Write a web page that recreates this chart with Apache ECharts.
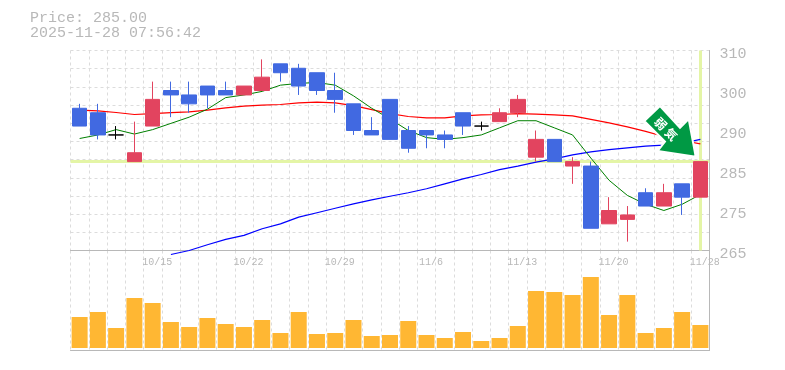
<!DOCTYPE html>
<html><head><meta charset="utf-8">
<style>html,body{margin:0;padding:0;background:#fff}#c{width:785px;height:370px}</style>
<script src="https://cdn.jsdelivr.net/npm/echarts@6/dist/echarts.min.js"></script>
</head><body><div id="c"></div>
<script>
const dates = ['10/8','10/9','10/10','10/14','10/15','10/16','10/17','10/20','10/21','10/22','10/23','10/24','10/27','10/28','10/29','10/30','10/31','11/4','11/5','11/6','11/7','11/10','11/11','11/12','11/13','11/14','11/17','11/18','11/19','11/20','11/21','11/25','11/26','11/27','11/28'];
const shownDates = ['10/15','10/22','10/29','11/6','11/13','11/20','11/28'];
const priceTicks = [265,275,285,290,300,310];
const open  = [297,296,291,285,293,301,300,302,301,300,301,307,306,305,301,298,292,299,292,292,291,296,293,294,296,286,290,284,284,271,272,278,275,280,277];
const close = [293,291,291,287,299,300,298,300,300,302,304,305,302,301,299,292,291,290,288,291,290,293,293,296,299,290,285,285,270,274,273,275,278,277,285];
const low   = [293,290,290,285,293,295,296,297,300,300,301,303,300,300,296,291,291,290,287,288,288,291,292,294,295,285,285,280,270,271,267,275,275,273,277];
const high  = [298,298,293,294,303,303,303,302,303,302,308,307,307,305,305,298,295,299,293,292,292,296,294,297,300,292,290,286,285,277,275,279,280,280,285];
const maShort = [290.2,291.0,292.2,291.2,292.2,293.6,295,296.8,299.4,300,300.8,302.2,302.6,302.8,302.2,299.8,297,294.6,292,290.4,290,290.4,291,292.6,294.2,294.2,292.6,291,285.8,280.8,277.4,275.4,274,275.4,277.6];
const maMid = [296.6,296.4,296.05,295.6,295.8,296,296.2,296.6,297.1,297.5,297.7,297.85,298.2,298.4,298.2,297.6,296.7,295.8,295.15,294.85,294.85,295.3,295.5,295.6,295.8,295.7,295.5,295.3,294.5,293.7,292.8,291.8,290.65,289.75,289];
const maLong = [null,null,null,null,null,264.1,265,266.3,267.5,268.4,269.9,271,272.5,273.5,274.5,275.5,276.4,277.2,278,278.9,280,281.1,282.1,283.2,284,284.9,285.6,286.5,287.2,287.7,288.1,288.5,288.7,289.1,290];
const volume = [31,36,20,50,45,26,21,30,24,21,28,15,36,14,15,28,12,13,27,13,10,16,7,10,22,57,56,53,71,33,53,15,20,36,23];
const lastPrice = 285;
const headerText = ['Price: 285.00','2025-11-28 07:56:42'];
const arrowText = '弱 気';

const GRAY = '#b8b8b8', GRID = '#dcdcdc', HL = '#e4f5a6';
const MONO = '"Liberation Mono", monospace';
const candles = dates.map((d,i)=>{
  const v=[open[i],close[i],low[i],high[i]];
  return open[i]===close[i] ? {value:v,itemStyle:{color:'#000',color0:'#000',borderColor:'#000',borderColor0:'#000'}} : v;
});
const chart = echarts.init(document.getElementById('c'),null,{renderer:'canvas'});
const split = {show:true,interval:0,lineStyle:{color:GRID,type:[3,3],width:1}};
chart.setOption({
  animation:false,
  backgroundColor:'#fff',
  title:{left:25,top:6,text:headerText.join('\n'),textStyle:{fontFamily:MONO,fontSize:15,fontWeight:'normal',color:GRAY,lineHeight:15}},
  grid:[{left:70.5,top:50.5,width:639,height:200},{left:70.5,top:250.5,width:639,height:100}],
  xAxis:[
    {type:'category',gridIndex:0,data:dates,position:'bottom',
     axisLine:{show:true,lineStyle:{color:GRAY,width:1}},axisTick:{show:false},splitLine:split,
     axisLabel:{show:true,interval:(i,v)=>shownDates.includes(v),hideOverlap:false,showMaxLabel:true,fontFamily:MONO,fontSize:10,color:GRAY,margin:7,align:'center',padding:[0,0,0,9]}},
    {type:'category',gridIndex:1,data:dates,position:'bottom',
     axisLine:{show:true,onZero:false,lineStyle:{color:GRAY,width:1}},axisTick:{show:false},splitLine:split,axisLabel:{show:false}}
  ],
  yAxis:[
    {type:'value',gridIndex:0,position:'right',min:265,max:310,scale:true,
     axisLine:{show:true,lineStyle:{color:GRAY,width:1}},axisTick:{show:false},axisLabel:{show:false},splitLine:{show:false}},
    {type:'value',gridIndex:0,position:'right',min:0,max:11,interval:1,
     axisLine:{show:false},axisTick:{show:false},axisLabel:{show:false},
     splitLine:{show:true,lineStyle:{color:GRID,type:[3,3],width:1}}},
    {type:'value',gridIndex:0,position:'right',min:0,max:5,interval:1,
     axisLine:{show:false},axisTick:{show:false},splitLine:{show:false},
     axisLabel:{show:true,margin:10,fontFamily:MONO,fontSize:15,color:GRAY,verticalAlign:'top',lineHeight:8,formatter:v=>String(priceTicks[v])}},
    {type:'value',gridIndex:1,position:'right',min:-2.5,max:97.5,
     axisLine:{show:true,onZero:false,lineStyle:{color:GRAY,width:1}},axisTick:{show:false},axisLabel:{show:false},splitLine:{show:false}}
  ],
  series:[
    {type:'line',name:'long',xAxisIndex:0,yAxisIndex:0,data:maLong,symbol:'none',clip:false,z:2,connectNulls:false,
     lineStyle:{color:'#0000ff',width:1.2},
     markLine:{silent:true,z:1,symbol:'none',animation:false,label:{show:false},
       lineStyle:{color:HL,width:3,type:'solid'},
       data:[{yAxis:lastPrice},{xAxis:dates[dates.length-1]}]}},
    {type:'line',name:'mid',xAxisIndex:0,yAxisIndex:0,data:maMid,symbol:'none',z:2,lineStyle:{color:'#ff0000',width:1.2}},
    {type:'line',name:'short',xAxisIndex:0,yAxisIndex:0,data:maShort,symbol:'none',z:2,lineStyle:{color:'#008000',width:1}},
    {type:'candlestick',xAxisIndex:0,yAxisIndex:0,data:candles,barWidth:15,z:3,
     itemStyle:{color:'#e2445f',color0:'#4169e1',borderColor:'#e2445f',borderColor0:'#4169e1',borderWidth:1}},
    {type:'bar',xAxisIndex:1,yAxisIndex:3,data:volume,barWidth:16,itemStyle:{color:'#ffb733'},z:3}
  ],
  graphic:[
    {type:'polygon',z:100,shape:{points:[[660,106],[644.3,121],[665,141.7],[657.7,151],[695.7,156.7],[688.7,119],[680,127.7]]},
     style:{fill:'#009944',stroke:'#fff',lineWidth:2}},
    {type:'text',z:101,x:666,y:129,rotation:-Math.PI/4,
     style:{text:arrowText,fill:'#fff',font:'bold 12px "Noto Sans CJK JP"',align:'center',verticalAlign:'middle'}}
  ]
});
</script></body></html>
